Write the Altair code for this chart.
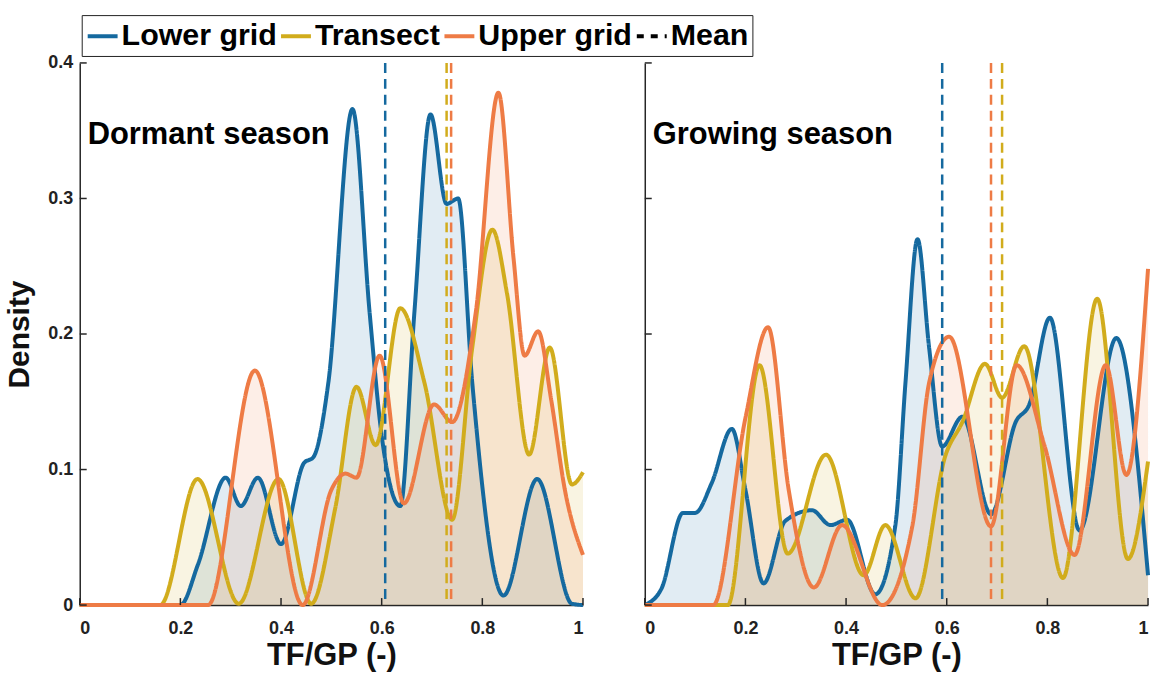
import altair as alt
import pandas as pd

# ---------------- data ----------------
series_names = ["Lower grid", "Transect", "Upper grid", "Mean"]
series_colors = ["#15699F", "#D1AC1C", "#EE7B45", "#000000"]

# Dormant season
dormant_lower_x = [0, 0.2, 0.235, 0.29, 0.32, 0.354, 0.40, 0.446, 0.464, 0.494, 0.542, 0.576, 0.60, 0.637, 0.665, 0.697, 0.729, 0.752, 0.78, 0.842, 0.909, 0.978, 1.0]
dormant_lower_y = [0, 0, 0.03, 0.094, 0.073, 0.094, 0.045, 0.105, 0.109, 0.164, 0.366, 0.216, 0.125, 0.073, 0.216, 0.362, 0.296, 0.300, 0.164, 0.007, 0.093, 0.001, 0]

dormant_transect_x = [0, 0.16, 0.234, 0.316, 0.395, 0.46, 0.508, 0.55, 0.588, 0.637, 0.685, 0.74, 0.78, 0.82, 0.849, 0.893, 0.934, 0.978, 1.0]
dormant_transect_y = [0, 0, 0.093, 0.001, 0.093, 0.001, 0.072, 0.161, 0.118, 0.219, 0.164, 0.063, 0.19, 0.277, 0.23, 0.111, 0.19, 0.089, 0.098]

dormant_upper_x = [0, 0.255, 0.348, 0.443, 0.50, 0.528, 0.55, 0.596, 0.644, 0.704, 0.74, 0.787, 0.832, 0.862, 0.884, 0.911, 0.937, 0.964, 1.0]
dormant_upper_y = [0, 0, 0.173, 0, 0.085, 0.097, 0.094, 0.184, 0.075, 0.148, 0.135, 0.216, 0.378, 0.256, 0.184, 0.202, 0.151, 0.085, 0.037]

dormant_means = [0.607, 0.729, 0.738]  # Lower grid, Transect, Upper grid

# Growing season
growing_lower_x = [0, 0.033, 0.076, 0.10, 0.133, 0.173, 0.2, 0.236, 0.279, 0.332, 0.369, 0.402, 0.458, 0.498, 0.518, 0.542, 0.565, 0.591, 0.631, 0.688, 0.737, 0.764, 0.805, 0.864, 0.937, 1.0]
growing_lower_y = [0, 0.012, 0.068, 0.068, 0.09, 0.13, 0.085, 0.016, 0.062, 0.07, 0.059, 0.063, 0.008, 0.059, 0.164, 0.27, 0.19, 0.117, 0.139, 0.067, 0.135, 0.148, 0.212, 0.055, 0.197, 0.022]

growing_transect_x = [0, 0.165, 0.228, 0.284, 0.36, 0.435, 0.478, 0.538, 0.598, 0.631, 0.676, 0.71, 0.754, 0.831, 0.899, 0.96, 1.0]
growing_transect_y = [0, 0, 0.177, 0.038, 0.111, 0.022, 0.059, 0.005, 0.111, 0.135, 0.178, 0.153, 0.191, 0.02, 0.226, 0.034, 0.106]

growing_upper_x = [0, 0.136, 0.2, 0.245, 0.286, 0.336, 0.392, 0.472, 0.532, 0.565, 0.605, 0.688, 0.739, 0.794, 0.854, 0.916, 0.957, 1.0]
growing_upper_y = [0, 0, 0.138, 0.205, 0.085, 0.013, 0.059, 0, 0.059, 0.164, 0.198, 0.058, 0.177, 0.118, 0.037, 0.177, 0.096, 0.248]

growing_means = [0.591, 0.71, 0.688]  # Lower grid, Transect, Upper grid

x_ticks = [0, 0.2, 0.4, 0.6, 0.8, 1.0]
y_ticks = [0, 0.1, 0.2, 0.3, 0.4]

FONT = "Liberation Sans"
W, H = 505, 544


def curves(lx, ly, tx, ty, ux, uy):
    frames = []
    for name, xs, ys in [("Lower grid", lx, ly), ("Transect", tx, ty), ("Upper grid", ux, uy)]:
        frames.append(pd.DataFrame({"series": name, "x": xs, "y": ys}))
    return pd.concat(frames, ignore_index=True)


color_scale = alt.Scale(domain=series_names, range=series_colors)
dash_scale = alt.Scale(domain=series_names, range=[[1, 0], [1, 0], [1, 0], [7, 7]])

x_scale = alt.Scale(domain=[0, 1], nice=False, zero=False)
y_scale = alt.Scale(domain=[0, 0.4], nice=False)


def panel(df, means, label, show_y):
    x_enc = alt.X("x:Q", scale=x_scale,
                  axis=alt.Axis(values=x_ticks, format="~g", title="TF/GP (-)", ticks=False,
                                labelPadding=15, titlePadding=3))
    y_axis = alt.Axis(values=y_ticks, format="~g", title="Density" if show_y else None,
                      labels=show_y, ticks=False, labelPadding=7, titlePadding=13)
    y_enc = alt.Y("y:Q", scale=y_scale, axis=y_axis)

    layers = []
    # light fills, one layer per series (fixed colours, no legend)
    for name, col in zip(series_names[:3], series_colors[:3]):
        layers.append(
            alt.Chart(df).transform_filter(alt.datum.series == name)
            .mark_area(interpolate="monotone", fillOpacity=0.13, color=col)
            .encode(x=x_enc, y=y_enc)
        )
    # curves (these carry the legend)
    layers.append(
        alt.Chart(df).mark_line(interpolate="monotone", strokeWidth=4).encode(
            x=alt.X("x:Q", scale=x_scale),
            y=alt.Y("y:Q", scale=y_scale),
            color=alt.Color("series:N", scale=color_scale, title=None),
            strokeDash=alt.StrokeDash("series:N", scale=dash_scale, title=None),
        )
    )
    # mean lines
    for m, col in zip(means, series_colors[:3]):
        layers.append(
            alt.Chart(pd.DataFrame({"m": [m]})).mark_rule(strokeWidth=2.5, strokeDash=[10, 6], color=col)
            .encode(x=alt.X("m:Q", scale=x_scale), y=alt.value(0), y2=alt.value(H))
        )
    # inward ticks
    layers.append(alt.Chart(pd.DataFrame({"t": x_ticks})).mark_rule(color="#262626", strokeWidth=1.5).encode(
        x=alt.X("t:Q", scale=x_scale), y=alt.value(H), y2=alt.value(H - 7)))
    layers.append(alt.Chart(pd.DataFrame({"t": y_ticks})).mark_rule(color="#262626", strokeWidth=1.5).encode(
        y=alt.Y("t:Q", scale=y_scale), x=alt.value(0), x2=alt.value(7)))
    layers.append(alt.Chart(pd.DataFrame({"label": [label]})).mark_text(
        align="left", baseline="alphabetic", font=FONT, fontSize=31, fontWeight="bold", color="black"
    ).encode(x=alt.value(8), y=alt.value(81), text="label:N"))
    return alt.layer(*layers)


dormant = curves(dormant_lower_x, dormant_lower_y, dormant_transect_x, dormant_transect_y,
                 dormant_upper_x, dormant_upper_y)
growing = curves(growing_lower_x, growing_lower_y, growing_transect_x, growing_transect_y,
                 growing_upper_x, growing_upper_y)

left = panel(dormant, dormant_means, "Dormant season", True).properties(width=W, height=H)
right = panel(growing, growing_means, "Growing season", False).properties(width=W, height=H)

chart = alt.hconcat(left, right, spacing=62, bounds="flush").properties(
    padding={"left": 4, "top": 13, "right": 0, "bottom": 0}
).configure_view(stroke=None).configure_axis(
    domainColor="#262626", domainWidth=1.5, grid=False,
    labelFont=FONT, labelFontSize=18, labelFontWeight="bold", labelColor="#222222",
    titleFont=FONT, titleFontWeight="bold", titleColor="#111111",
).configure_axisX(titleFontSize=31).configure_axisY(titleFontSize=30).configure_legend(
    orient="none", legendX=2, legendY=-48, direction="horizontal",
    strokeColor="#222222", fillColor="white", padding=4, cornerRadius=0,
    labelFont=FONT, labelFontSize=30.5, labelFontWeight="bold", labelColor="black",
    symbolType="stroke", symbolStrokeWidth=4, symbolSize=900, labelOffset=2,
    columnPadding=-4, labelLimit=400,
)

chart.save("out.html", embed_options={"renderer": "svg", "actions": False})
